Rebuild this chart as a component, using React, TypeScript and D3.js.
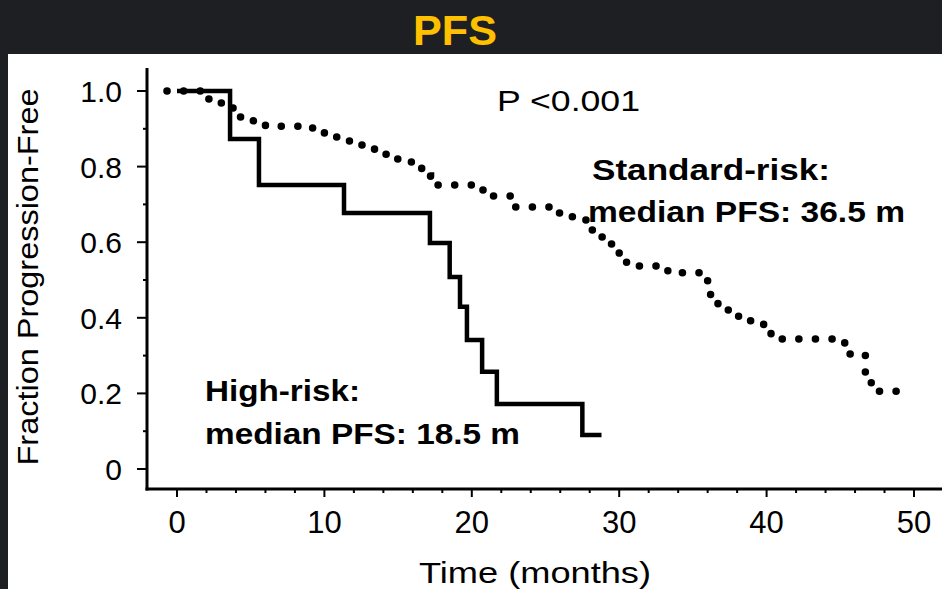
import * as d3 from "d3";

// high-risk group: step times (months) and fraction progression-free after each step
const highTimes = [0, 3.6, 5.56, 11.33, 17.16, 18.5, 19.2, 19.67, 20.7, 21.7, 27.5, 28.8];
const highSurv = [1.0, 0.873, 0.751, 0.677, 0.598, 0.508, 0.429, 0.341, 0.257, 0.172, 0.09, 0.09];

// standard-risk group
const stdTimes = [-0.68, 2.0, 2.9, 3.7, 4.3, 5.1, 6.0, 9.2, 10.0, 10.9, 11.7, 13.4, 14.2, 15.9, 16.6, 17.2, 20.4, 21.2, 22.7, 25.8, 26.8, 27.7, 28.1, 28.7, 29.4, 30.0, 30.5, 33.3, 36.0, 36.2, 36.7, 37.4, 38.1, 39.8, 40.3, 44.6, 45.3, 46.7, 47.1, 48.9];
const stdSurv = [1.0, 0.979, 0.968, 0.955, 0.931, 0.921, 0.907, 0.892, 0.878, 0.868, 0.857, 0.833, 0.82, 0.799, 0.775, 0.751, 0.738, 0.722, 0.693, 0.677, 0.667, 0.659, 0.632, 0.614, 0.595, 0.571, 0.537, 0.519, 0.479, 0.452, 0.437, 0.415, 0.392, 0.37, 0.344, 0.339, 0.304, 0.23, 0.206, 0.206];

const xTicks = [0, 10, 20, 30, 40, 50];
const xMinor = [2, 4, 6, 8, 12, 14, 16, 18, 22, 24, 26, 28, 32, 34, 36, 38, 42, 44, 46, 48];
const yTicks = [1.0, 0.8, 0.6, 0.4, 0.2, 0];
const yTickLabels = ["1.0", "0.8", "0.6", "0.4", "0.2", "0"];
const yMinor = [0.9, 0.7, 0.5, 0.3, 0.1];

const W = 942;
const H = 589;

export default function App() {
  const x = d3.scaleLinear().domain([0, 50]).range([177, 914]);
  const y = d3.scaleLinear().domain([0, 1]).range([469, 91]);

  const line = d3
    .line<[number, number]>()
    .x((d) => x(d[0]))
    .y((d) => y(d[1]))
    .curve(d3.curveStepAfter);

  const highPath = line(highTimes.map((t, i) => [t, highSurv[i]]));
  const stdPath = line(stdTimes.map((t, i) => [t, stdSurv[i]]));

  const font = "Arial, 'Liberation Sans', Helvetica, sans-serif";
  const axisX = 147;
  const axisY = 489;

  return (
    <div style={{ position: "fixed", left: 0, top: 0, width: W, height: H }}>
      <svg width={W} height={H} style={{ display: "block" }} fontFamily={font}>
        <rect x={0} y={0} width={W} height={H} fill="#1e1f23" />
        <rect x={8} y={54} width={W - 8} height={H - 54} fill="#ffffff" />
        <text x={455} y={45} textAnchor="middle" fontSize={42} fontWeight="bold" fill="#ffc000" textLength={84} lengthAdjust="spacingAndGlyphs">
          PFS
        </text>

        {/* axes */}
        <line x1={axisX} x2={axisX} y1={68} y2={axisY + 1.5} stroke="#000" strokeWidth={3} />
        <line x1={axisX - 1.5} x2={W} y1={axisY} y2={axisY} stroke="#000" strokeWidth={3} />
        {yTicks.map((t, i) => (
          <g key={"yt" + t}>
            <line x1={axisX - 10} x2={axisX} y1={y(t)} y2={y(t)} stroke="#000" strokeWidth={2} />
            <text x={122} y={y(t) + 11} textAnchor="end" fontSize={30} fill="#000">
              {yTickLabels[i]}
            </text>
          </g>
        ))}
        {yMinor.map((t) => (
          <line key={"ym" + t} x1={axisX - 4} x2={axisX} y1={y(t)} y2={y(t)} stroke="#000" strokeWidth={2} />
        ))}
        {xTicks.map((t) => (
          <g key={"xt" + t}>
            <line x1={x(t)} x2={x(t)} y1={axisY} y2={axisY + 8} stroke="#000" strokeWidth={2} />
            <text x={x(t)} y={533} textAnchor="middle" fontSize={31} fill="#000">
              {t}
            </text>
          </g>
        ))}
        {xMinor.map((t) => (
          <line key={"xm" + t} x1={x(t)} x2={x(t)} y1={axisY} y2={axisY + 4} stroke="#000" strokeWidth={2} />
        ))}

        <text x={535} y={583} textAnchor="middle" fontSize={30} fill="#000" textLength={232} lengthAdjust="spacingAndGlyphs">
          Time (months)
        </text>
        <text transform="translate(38,277) rotate(-90)" textAnchor="middle" fontSize={30} fill="#000" textLength={377} lengthAdjust="spacingAndGlyphs">
          Fraction Progression-Free
        </text>

        {/* curves */}
        <path d={stdPath ?? ""} fill="none" stroke="#000" strokeWidth={7.5} strokeLinecap="round" strokeDasharray="0.1 16.5" />
        <path d={highPath ?? ""} fill="none" stroke="#000" strokeWidth={4.5} strokeLinejoin="miter" />

        {/* annotations */}
        <text x={497} y={111} fontSize={29} fill="#000" textLength={143} lengthAdjust="spacingAndGlyphs">
          P &lt;0.001
        </text>
        <g fontWeight="bold" fontSize={30} fill="#000">
          <text x={592} y={180} textLength={238} lengthAdjust="spacingAndGlyphs">Standard-risk:</text>
          <text x={588} y={222} textLength={317} lengthAdjust="spacingAndGlyphs">median PFS: 36.5 m</text>
          <text x={205} y={401} textLength={155} lengthAdjust="spacingAndGlyphs">High-risk:</text>
          <text x={205} y={444} textLength={315} lengthAdjust="spacingAndGlyphs">median PFS: 18.5 m</text>
        </g>
      </svg>
    </div>
  );
}
